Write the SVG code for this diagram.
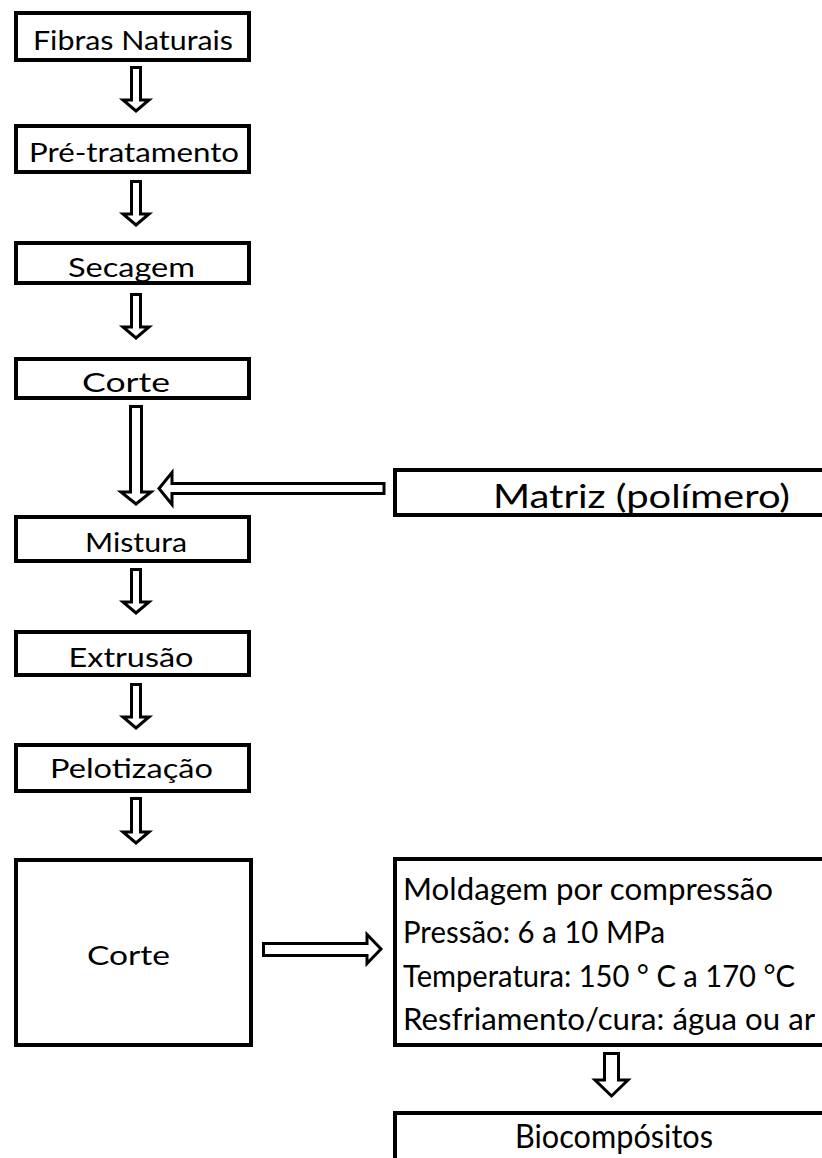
<svg xmlns="http://www.w3.org/2000/svg" width="822" height="1158" viewBox="0 0 822 1158">
<style>
.box{fill:#fff;stroke:#000;stroke-width:4}
.arr{fill:#fff;stroke:#000;stroke-width:3;stroke-linejoin:miter}
.t{font-family:Lato,"Liberation Sans",sans-serif;font-size:27.5px;fill:#000}
.tm{text-anchor:middle}
.r{font-size:33px}
.m{font-size:31px}
</style>
<rect width="822" height="1158" fill="#fff"/>
<g id="connectors">
<path class="arr" d="M131.5,67.5 H140.5 V100 H149 L136,111 L123,100 H131.5 Z"/>
<path class="arr" d="M131.5,181.5 H140.5 V214 H149 L136,225 L123,214 H131.5 Z"/>
<path class="arr" d="M131.5,294.5 H140.5 V327 H149 L136,338 L123,327 H131.5 Z"/>
<path class="arr" d="M130.5,406.5 H141.5 V492 H151 L136,504 L121,492 H130.5 Z"/>
<path class="arr" d="M131.5,569.5 H140.5 V602 H149 L136,613 L123,602 H131.5 Z"/>
<path class="arr" d="M131.5,684.5 H140.5 V717 H149 L136,728 L123,717 H131.5 Z"/>
<path class="arr" d="M131.5,798.5 H140.5 V832 H149 L136,843 L123,832 H131.5 Z"/>
<path class="arr" d="M384,483.5 V493.5 H172 V504.5 L159,488.5 L172,472.5 V483.5 Z"/>
<path class="arr" d="M263.5,943.5 H367 V934.5 L381,949 L367,963.5 V955.5 H263.5 Z"/>
<path class="arr" d="M604.5,1053.5 H618.5 V1080 H628 L611.5,1096 L595,1080 H604.5 Z"/>
</g>
<g id="n1"><rect class="box" x="16" y="13" width="233" height="47"/><text class="t tm" x="133" y="50" textLength="200" lengthAdjust="spacingAndGlyphs">Fibras Naturais</text></g>
<g id="n2"><rect class="box" x="16" y="126" width="233" height="46"/><text class="t tm" x="134" y="162" textLength="210" lengthAdjust="spacingAndGlyphs">Pré-tratamento</text></g>
<g id="n3"><rect class="box" x="16" y="243" width="233" height="40"/><text class="t tm" x="131.5" y="277" textLength="127" lengthAdjust="spacingAndGlyphs">Secagem</text></g>
<g id="n4"><rect class="box" x="16" y="359" width="233" height="39"/><text class="t tm" x="126" y="392" textLength="88" lengthAdjust="spacingAndGlyphs">Corte</text></g>
<g id="n5"><rect class="box" x="395" y="470" width="500" height="45"/><text class="t tm r" x="641.5" y="508" textLength="297" lengthAdjust="spacingAndGlyphs">Matriz (polímero)</text></g>
<g id="n6"><rect class="box" x="16" y="517" width="233" height="44"/><text class="t tm" x="136" y="552" textLength="102" lengthAdjust="spacingAndGlyphs">Mistura</text></g>
<g id="n7"><rect class="box" x="16" y="632" width="233" height="43"/><text class="t tm" x="131" y="667" textLength="125" lengthAdjust="spacingAndGlyphs">Extrusão</text></g>
<g id="n8"><rect class="box" x="16" y="745" width="233" height="46"/><text class="t tm" x="131.5" y="778" textLength="163" lengthAdjust="spacingAndGlyphs">Pelotização</text></g>
<g id="n9"><rect class="box" x="16" y="860" width="235" height="185"/><text class="t tm" x="128.5" y="965" textLength="83" lengthAdjust="spacingAndGlyphs">Corte</text></g>
<g id="n10"><rect class="box" x="395" y="859" width="500" height="186"/>
<text class="t m" x="403" y="900" textLength="370" lengthAdjust="spacingAndGlyphs">Moldagem por compressão</text>
<text class="t m" x="403" y="943" textLength="262" lengthAdjust="spacingAndGlyphs">Pressão: 6 a 10 MPa</text>
<text class="t m" x="403" y="987" textLength="392" lengthAdjust="spacingAndGlyphs">Temperatura: 150 ° C a 170 °C</text>
<text class="t m" x="403" y="1030" textLength="412" lengthAdjust="spacingAndGlyphs">Resfriamento/cura: água ou ar</text>
</g>
<g id="n11"><rect class="box" x="395" y="1113" width="500" height="100"/><text class="t tm r" x="614" y="1148" textLength="198" lengthAdjust="spacingAndGlyphs">Biocompósitos</text></g>
</svg>
